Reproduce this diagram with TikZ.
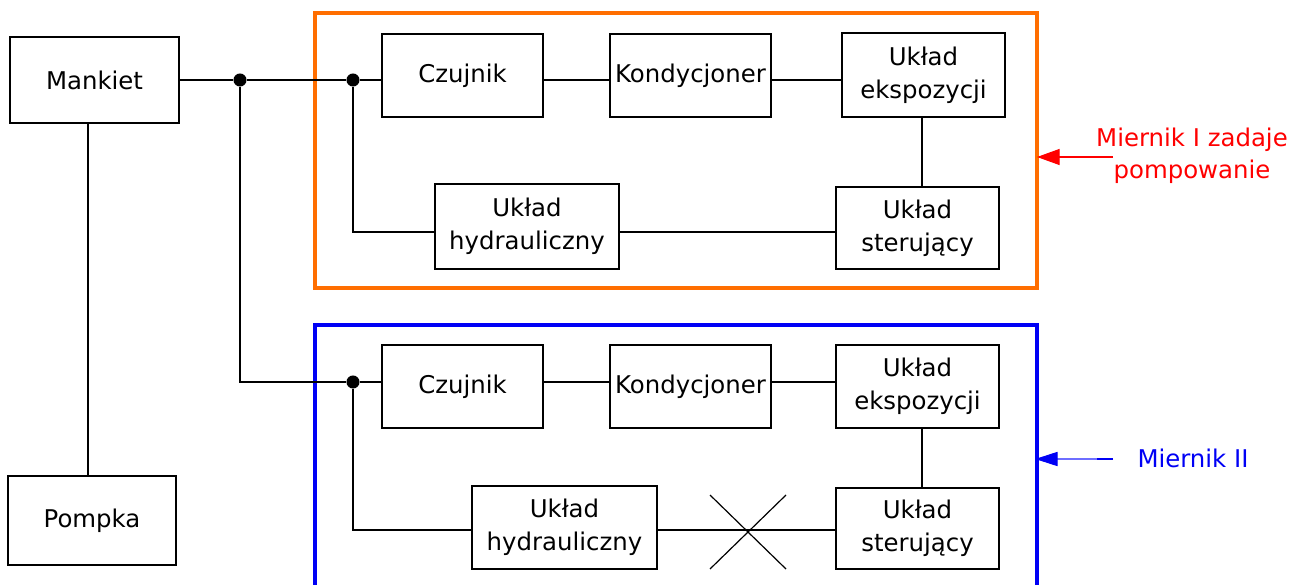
\documentclass[tikz,border=0pt]{standalone}
\usepackage{fontspec}
\setmainfont{DejaVu Sans}
\usetikzlibrary{arrows.meta,calc}
\definecolor{frameorange}{RGB}{255,110,0}
\definecolor{frameblue}{RGB}{0,0,245}
\definecolor{lightarrow}{RGB}{110,110,255}
\tikzset{
  blk/.style 2 args={draw, line width=1.6pt, rectangle, inner sep=0pt, align=center,
    minimum width=#1*0.75pt, minimum height=#2*0.75pt,
    font=\fontsize{18.3}{25}\selectfont},
  conn/.style={line width=1.2pt},
  junc/.style={circle, fill=black, inner sep=0pt, minimum size=9.8pt},
  lbl/.style={align=center, font=\fontsize{18.3}{24}\selectfont}
}
\begin{document}
\begin{tikzpicture}[x=0.75pt,y=-0.75pt]
\useasboundingbox (0,0) rectangle (1297,585);
% frames
\draw[frameorange, line width=2.6pt] (315,13) rectangle (1037,288);
\coordinate (F1e) at (1037,157);
\draw[frameblue, line width=2.6pt] (315,600) -- (315,325) -- (1037,325) -- (1037,600);
\coordinate (F2e) at (1037,459);
% left blocks
\node[blk={169}{86}] (mank) at (94.5,80) {Mankiet};
\node[blk={168}{89}] (pomp) at (92,520.5) {Pompka};
% top group
\node[blk={161}{83}] (t1) at (462.5,75.5) {Czujnik};
\node[blk={161}{83}] (t2) at (690.5,75.5) {Kondycjoner};
\node[blk={163}{84}] (t3) at (923.5,75) {Układ\\ekspozycji};
\node[blk={163}{82}] (t4) at (917.5,228) {Układ\\sterujący};
\node[blk={184}{85}] (t5) at (527,226.5) {Układ\\hydrauliczny};
% bottom group
\node[blk={161}{83}] (b1) at (462.5,386.5) {Czujnik};
\node[blk={161}{83}] (b2) at (690.5,386.5) {Kondycjoner};
\node[blk={163}{83}] (b3) at (917.5,386.5) {Układ\\ekspozycji};
\node[blk={163}{81}] (b4) at (917.5,528.5) {Układ\\sterujący};
\node[blk={185}{83}] (b5) at (564.5,527.5) {Układ\\hydrauliczny};
% junctions
\node[junc] (j1) at (240,80) {};
\node[junc] (j2) at (353,80) {};
\node[junc] (j3) at (353,382) {};
% connectors
\draw[conn] (mank.south -| 88,0) -- (pomp.north -| 88,0);
\draw[conn] (mank.east |- j1) -- (j1) -- (j2) -- (t1.west |- j2);
\draw[conn] (t1.east |- j2) -- (t2.west |- j2);
\draw[conn] (t2.east |- j2) -- (t3.west |- j2);
\draw[conn] (t3.south -| 922,0) -- (t4.north -| 922,0);
\draw[conn] (j2) |- (t5.west |- 0,232);
\draw[conn] (t5.east |- 0,232) -- (t4.west |- 0,232);
\draw[conn] (j1) |- (j3) -- (b1.west |- j3);
\draw[conn] (b1.east |- j3) -- (b2.west |- j3);
\draw[conn] (b2.east |- j3) -- (b3.west |- j3);
\draw[conn] (b3.south -| 922,0) -- (b4.north -| 922,0);
\draw[conn] (j3) |- (b5.west |- 0,530);
\draw[conn] (b5.east |- 0,530) -- (b4.west |- 0,530);
% cross
\coordinate (xc) at (748,532);
\draw[line width=0.9pt] ($(xc)+(-38,-37)$) -- ($(xc)+(38,37)$);
\draw[line width=0.9pt] ($(xc)+(-38,37)$) -- ($(xc)+(38,-37)$);
% labels and arrows
\node[lbl, text=red] (l1) at (1192,156) {Miernik I zadaje\\pompowanie};
\coordinate (a1) at (1113,157);
\draw[red, line width=1pt, -{Triangle[length=17pt,width=12pt]}] (a1) -- (F1e);
\node[lbl, text=frameblue] (l2) at (1193,458) {Miernik II};
\coordinate (a2) at (1113,459);
\coordinate (a2m) at (1097,459);
\draw[frameblue, line width=1.6pt] (a2) -- (a2m);
\draw[lightarrow, line width=1pt] (a2m) -- (1057,459);
\draw[frameblue, fill=frameblue, line width=0.8pt] (F2e) -- (1057,452.5) -- (1057,465.5) -- cycle;
\end{tikzpicture}
\end{document}
